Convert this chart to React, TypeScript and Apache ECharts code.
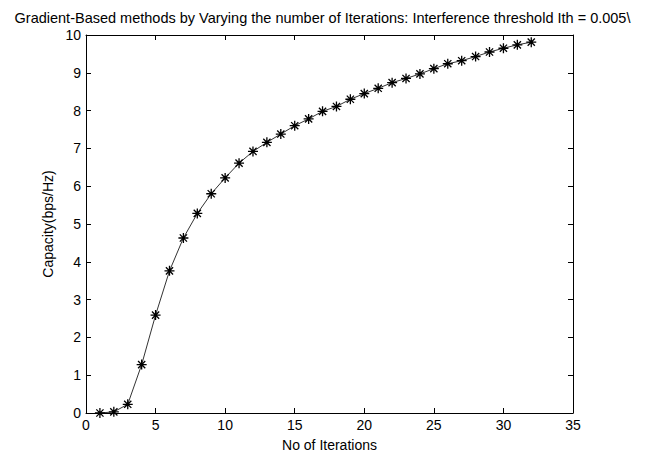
import React, { useEffect, useRef } from "react";
import * as echarts from "echarts";

const iterations = [1,2,3,4,5,6,7,8,9,10,11,12,13,14,15,16,17,18,19,20,21,22,23,24,25,26,27,28,29,30,31,32];
const capacity = [0,0.03,0.23,1.28,2.59,3.76,4.63,5.28,5.80,6.22,6.61,6.92,7.16,7.38,7.60,7.78,7.98,8.11,8.30,8.45,8.59,8.74,8.85,8.97,9.11,9.24,9.32,9.43,9.55,9.65,9.74,9.81];
const titleText = "Gradient-Based methods by Varying the number of Iterations: Interference threshold Ith = 0.005\\";
const xName = "No of Iterations";
const yName = "Capacity(bps/Hz)";

const FONT = "Liberation Sans, Arial, sans-serif";
const ASTERISK = "path://M0,-5L0,5M-5,0L5,0M-3.6,-3.6L3.6,3.6M-3.6,3.6L3.6,-3.6";

export default function App() {
  const ref = useRef<HTMLDivElement>(null);
  useEffect(() => {
    const chart = echarts.init(ref.current!, null, { renderer: "svg" });
    const tickStyle = { show: true, inside: true, length: 5, lineStyle: { color: "#000", width: 1 } };
    const axisLine = { show: true, onZero: false, lineStyle: { color: "#000", width: 1 } };
    chart.setOption({
      animation: false,
      backgroundColor: "#fff",
      title: {
        text: titleText,
        left: "center",
        top: 10,
        padding: 0,
        textStyle: { fontFamily: FONT, fontSize: 14.5, fontWeight: "normal", color: "#000", lineHeight: 16 },
      },
      grid: { left: 86, right: 72, top: 35, bottom: 39, show: false },
      xAxis: [
        {
          type: "value", min: 0, max: 35, interval: 5, position: "bottom",
          name: xName, nameLocation: "middle", nameGap: 25,
          nameTextStyle: { fontFamily: FONT, fontSize: 14, color: "#000" },
          axisLine, axisTick: tickStyle,
          axisLabel: { fontFamily: FONT, fontSize: 14, color: "#000", margin: 5 },
          splitLine: { show: false },
        },
        {
          type: "value", min: 0, max: 35, interval: 5, position: "top",
          axisLine, axisTick: tickStyle, axisLabel: { show: false }, splitLine: { show: false },
        },
      ],
      yAxis: [
        {
          type: "value", min: 0, max: 10, interval: 1, position: "left",
          name: yName, nameLocation: "middle", nameGap: 31, nameRotate: 90,
          nameTextStyle: { fontFamily: FONT, fontSize: 14, color: "#000" },
          axisLine, axisTick: tickStyle,
          axisLabel: { fontFamily: FONT, fontSize: 14, color: "#000", margin: 5, lineHeight: 14 },
          splitLine: { show: false },
        },
        {
          type: "value", min: 0, max: 10, interval: 1, position: "right",
          axisLine, axisTick: tickStyle, axisLabel: { show: false }, splitLine: { show: false },
        },
      ],
      series: [
        {
          type: "line",
          data: iterations.map((x, i) => [x, capacity[i]]),
          xAxisIndex: 0, yAxisIndex: 0,
          symbol: ASTERISK,
          symbolSize: 10,
          showAllSymbol: true,
          lineStyle: { color: "#333", width: 1 },
          itemStyle: { color: "none", borderColor: "#000", borderWidth: 1.3 },
        },
      ],
    });
    return () => chart.dispose();
  }, []);
  return <div ref={ref} style={{ width: 645, height: 457, position: "absolute", left: 0, top: 0 }} />;
}
